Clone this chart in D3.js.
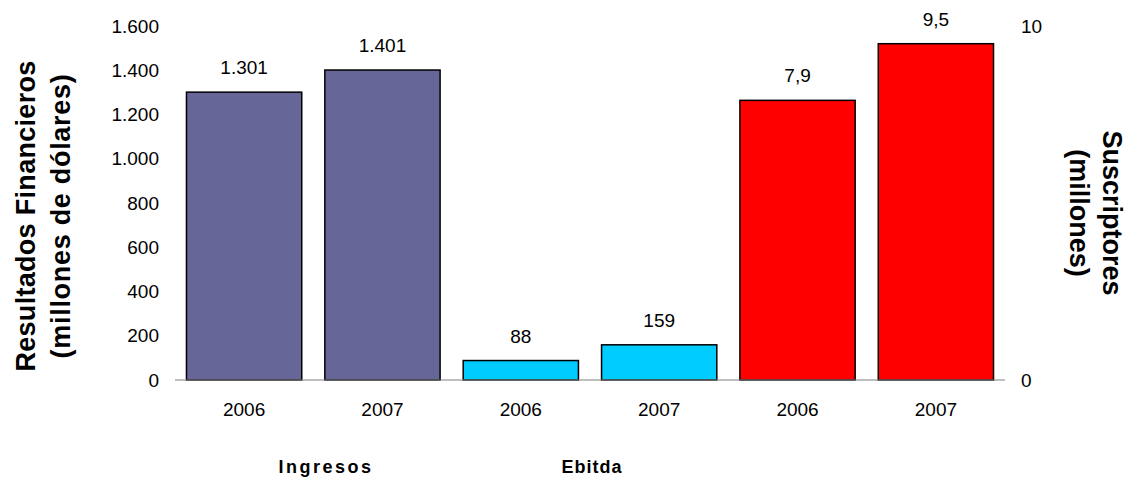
<!DOCTYPE html>
<html>
<head>
<meta charset="utf-8">
<script src="https://cdn.jsdelivr.net/npm/d3@7"></script>
<style>
  html, body { margin: 0; padding: 0; background: #fff; }
  svg text { font-family: Arial, "Liberation Sans", sans-serif; fill: #000; }
</style>
</head>
<body>
<div id="chart"></div>
<script>
//data
var years = ["2006", "2007", "2006", "2007", "2006", "2007"];
var ingresos = [1301, 1401];
var ebitda = [88, 159];
var suscriptores = [7.9, 9.5];
var leftTicks = [0, 200, 400, 600, 800, 1000, 1200, 1400, 1600];
var rightTicks = [0, 10];
var groupLabels = ["Ingresos", "Ebitda"];

var color = {
  ingresos: "#666699",
  ebitda: "#00CCFF",
  subs: "#FF0000",
  base: "#808080"
};

var es = d3.formatLocale({decimal: ",", thousands: ".", grouping: [3], currency: ["", ""]});
var fmtInt = es.format(","),
    fmtDec = es.format(",.1f");

// one row per bar, axis says which scale it is drawn on
var bars = [];
ingresos.forEach(function(v) { bars.push({v: v, axis: "l", c: color.ingresos, lbl: fmtInt(v)}); });
ebitda.forEach(function(v) { bars.push({v: v, axis: "l", c: color.ebitda, lbl: fmtInt(v)}); });
suscriptores.forEach(function(v) { bars.push({v: v, axis: "r", c: color.subs, lbl: fmtDec(v)}); });
bars.forEach(function(d, i) { d.i = i; d.year = years[i]; });

//layout
var W = 1130, H = 480;
var plot = {x0: 175, x1: 1005, y0: 380, y1: 26};

var svg = d3.select("#chart").append("svg").attr("width", W).attr("height", H);

var x = d3.scaleBand().domain(d3.range(bars.length)).range([plot.x0, plot.x1])
          .paddingInner(0.167).paddingOuter(0.083);
var yl = d3.scaleLinear().domain([0, 1600]).range([plot.y0, plot.y1]);
var yr = d3.scaleLinear().domain([0, 10]).range([plot.y0, plot.y1]);
function yOf(d) { return d.axis == "l" ? yl(d.v) : yr(d.v); }

// left axis, labels only
var la = svg.append("g").attr("transform", "translate(" + plot.x0 + ",0)")
            .call(d3.axisLeft(yl).tickValues(leftTicks).tickFormat(fmtInt).tickSize(0).tickPadding(16));
la.select(".domain").remove();
la.selectAll("text").attr("font-size", 19).attr("font-family", null);

var ra = svg.append("g").attr("transform", "translate(" + plot.x1 + ",0)")
            .call(d3.axisRight(yr).tickValues(rightTicks).tickFormat(fmtInt).tickSize(0).tickPadding(16));
ra.select(".domain").remove();
ra.selectAll("text").attr("font-size", 19).attr("font-family", null);

// bars
svg.append("g").selectAll("rect").data(bars).join("rect")
   .attr("x", function(d) { return x(d.i); })
   .attr("y", function(d) { return yOf(d); })
   .attr("width", x.bandwidth())
   .attr("height", function(d) { return plot.y0 - yOf(d); })
   .attr("fill", function(d) { return d.c; })
   .attr("stroke", "#000").attr("stroke-width", 1.5);

// baseline
svg.append("line").attr("x1", plot.x0).attr("x2", plot.x1).attr("y1", plot.y0).attr("y2", plot.y0)
   .attr("stroke", color.base).attr("stroke-width", 1.2);

// value labels
svg.append("g").selectAll("text").data(bars).join("text")
   .attr("x", function(d) { return x(d.i) + x.bandwidth() / 2; })
   .attr("y", function(d) { return yOf(d) - 18; })
   .attr("text-anchor", "middle").attr("font-size", 19)
   .text(function(d) { return d.lbl; });

// year labels
svg.append("g").selectAll("text").data(bars).join("text")
   .attr("x", function(d) { return x(d.i) + x.bandwidth() / 2; })
   .attr("y", 416)
   .attr("text-anchor", "middle").attr("font-size", 19)
   .text(function(d) { return d.year; });

// group labels
var gx = [326, 592], gsp = [2.5, 1];
groupLabels.forEach(function(t, i) {
  svg.append("text").attr("x", gx[i]).attr("y", 473).attr("text-anchor", "middle")
     .attr("font-size", 18).attr("font-weight", "bold").attr("letter-spacing", gsp[i]).text(t);
});

// axis titles
var lt = svg.append("g").attr("transform", "translate(0,216) rotate(-90)");
lt.append("text").attr("x", 0).attr("y", 35).attr("text-anchor", "middle").attr("letter-spacing", 0.3)
  .attr("font-size", 27).attr("font-weight", "bold").text("Resultados Financieros");
lt.append("text").attr("x", 0).attr("y", 70).attr("text-anchor", "middle").attr("letter-spacing", 0.7)
  .attr("font-size", 27).attr("font-weight", "bold").text("(millones de dólares)");

var rt = svg.append("g").attr("transform", "translate(0,213) rotate(90)");
rt.append("text").attr("x", 0).attr("y", -1103).attr("text-anchor", "middle")
  .attr("font-size", 27).attr("font-weight", "bold").text("Suscriptores");
rt.append("text").attr("x", 0).attr("y", -1070).attr("text-anchor", "middle")
  .attr("font-size", 27).attr("font-weight", "bold").text("(millones)");
</script>
</body>
</html>
